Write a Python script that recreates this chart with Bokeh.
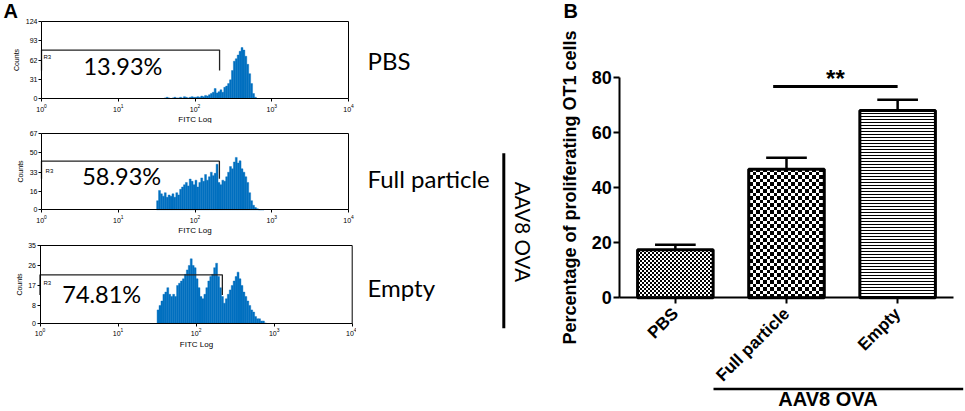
import math
import base64
from bokeh.plotting import figure
from bokeh.layouts import row, column
from bokeh.models import Range1d, FixedTicker, ImageURLTexture
from bokeh.core.properties import value
from bokeh.embed import file_html
from bokeh.resources import INLINE

# ---------------- data: panel A (FITC histograms) ----------------
BIN_START = 1.5      # log10(FITC) of first bin edge
BIN_WIDTH = 0.025    # bin width in decades
X_MIN, X_MAX = 1, 10 ** 4

pbs_counts = [0, 0, 0, 0, 1, 2, 1, 0, 1, 2, 1, 1, 2, 1, 3, 2, 1, 2, 3, 2,
              2, 3, 2, 4, 3, 5, 4, 6, 8, 10, 16, 9, 11, 14, 10, 18,
              20, 24, 30, 45, 60, 64, 70, 76, 82, 78, 68, 55, 40, 24, 8, 2,
              0, 0, 0, 0]
full_counts = [8, 17, 14, 12, 15, 11, 13, 12, 14, 11, 15, 13,
               18, 20, 22, 24, 21, 27, 25, 22, 26, 20, 24, 28, 25, 31, 26, 29, 33, 30, 32, 40,
               24, 22, 26, 25, 29, 33, 38, 36, 42, 46, 41, 43, 36, 33, 29, 24, 15, 8, 4, 2, 1, 0,
               0, 0]
empty_counts = [6, 8, 10, 13, 14, 16, 13, 12, 13, 12,
                17, 18, 19, 20, 22, 24, 26, 29, 26, 25,
                20, 16, 12, 11, 13, 16, 19, 21, 22, 25,
                27, 21, 16, 12, 9, 11, 13, 15, 17, 19,
                21, 23, 20, 17, 14, 12, 10, 8, 6, 5,
                3, 2, 2, 1, 1, 0]

pbs_yticks = [0, 31, 62, 93, 124]
full_yticks = [0, 16, 33, 50, 67]
empty_yticks = [0, 8, 17, 26, 35]

gate_name = "R3"
gate_percent = ["13.93%", "58.93%", "74.81%"]
gate_right = [209, 208, 217]
gate_top = [78, 42.7, 21.8]
gate_low = [45, 27.2, 12.7]

# ---------------- data: panel B ----------------
categories = ["PBS", "Full particle", "Empty"]
means = [17.4, 46.6, 67.9]
sems = [1.8, 4.2, 3.9]
b_yticks = [0, 20, 40, 60, 80]
group_title = "AAV8 OVA"
significance = "**"

HIST_BLUE = "#0070C0"
ARIAL = "Liberation Sans"
CALIBRI = "Lato"


def hist_panel(counts, yticks, H, bx, by, gi, pct_xy, r3_xy, letter=None):
    W = 356
    dec_px = (bx[1] - bx[0]) / 4.0
    ymax = yticks[-1]
    cnt_px = ymax / (by[1] - by[0])
    xr = Range1d(10 ** (-bx[0] / dec_px), 10 ** ((W - bx[0]) / dec_px))
    yr = Range1d(-(H - by[1]) * cnt_px, ymax + by[0] * cnt_px)
    p = figure(width=W, height=H, x_axis_type="log", x_range=xr, y_range=yr,
               min_border=0, title=None, output_backend="svg", toolbar_location=None)
    n = len(counts)
    lefts = [10 ** (BIN_START + i * BIN_WIDTH) for i in range(n)]
    rights = [10 ** (BIN_START + (i + 1) * BIN_WIDTH) for i in range(n)]
    p.quad(left=lefts, right=rights, bottom=[0] * n, top=counts,
           fill_color=HIST_BLUE, line_color=HIST_BLUE, line_width=0.4)
    # plot box (top and right edges; axes give left and bottom)
    p.line([X_MIN, X_MAX, X_MAX], [ymax, ymax, 0], line_color="black", line_width=1)
    # gate
    gx = [X_MIN, X_MIN, gate_right[gi], gate_right[gi]]
    gy = [gate_low[gi], gate_top[gi], gate_top[gi], gate_low[gi]]
    p.line(gx, gy, line_color="#222222", line_width=1.3)
    p.text(x=[pct_xy[0]], y=[pct_xy[1]], text=[gate_percent[gi]], text_font=value(CALIBRI),
           text_font_size="23.5px", text_baseline="middle", text_align="left",
           text_color="black")
    p.text(x=[r3_xy[0]], y=[r3_xy[1]], text=[gate_name], text_font=value(ARIAL),
           text_font_size="6px", text_baseline="top", text_align="left",
           text_color="black")
    if letter is not None:
        lx = 10 ** ((3 - bx[0]) / dec_px)
        ly = (by[1] - 10.5) * cnt_px
        p.text(x=[lx], y=[ly], text=[letter], text_font=value(ARIAL),
               text_font_style="bold", text_font_size="20px",
               text_baseline="middle", text_align="left", text_color="black")
    p.grid.visible = False
    p.outline_line_color = None
    p.xaxis.fixed_location = 0
    p.yaxis.fixed_location = X_MIN
    p.xaxis.bounds = (X_MIN, X_MAX)
    p.yaxis.bounds = (0, ymax)
    for ax in (p.xaxis[0], p.yaxis[0]):
        ax.axis_line_color = "black"
        ax.axis_line_width = 1
        ax.major_tick_line_color = "black"
        ax.major_tick_in = 0
        ax.major_tick_out = 3
        ax.minor_tick_line_color = None
        ax.major_label_text_font = ARIAL
        ax.major_label_text_font_size = "7px"
        ax.major_label_text_color = "black"
        ax.axis_label_text_font = ARIAL
        ax.axis_label_text_font_style = "normal"
        ax.axis_label_text_color = "black"
        ax.major_label_standoff = 1
    p.yaxis.ticker = FixedTicker(ticks=yticks)
    p.yaxis.axis_label = "Counts"
    p.yaxis.axis_label_text_font_size = "7px"
    p.yaxis.axis_label_standoff = 3
    p.xaxis.axis_label = "FITC Log"
    p.xaxis.axis_label_text_font_size = "8px"
    p.xaxis.axis_label_standoff = 0
    return p


h1 = hist_panel(pbs_counts, pbs_yticks, 123, (41, 348), (21, 98), 0, (3.52, 52.7), (1.06, 70.9), "A")
h2 = hist_panel(full_counts, full_yticks, 113, (41, 348), (10, 86.3), 1, (3.39, 29.7), (1.13, 37.1))
h3 = hist_panel(empty_counts, empty_yticks, 175, (39.5, 351.7), (9, 86.7), 2, (1.93, 13.0), (1.11, 19.5))

# ---------------- middle labels (pixel-like coordinates) ----------------
mid = figure(width=204, height=411, x_range=Range1d(356, 560), y_range=Range1d(411, 0),
             x_axis_location=None, y_axis_location=None, min_border=0, title=None,
             output_backend="svg", toolbar_location=None)
mid.grid.visible = False
mid.outline_line_color = None
mid.text(x=[367, 367, 367], y=[60.0, 178.3, 286.7], text=categories,
         text_font=value(CALIBRI), text_font_size="24px", text_baseline="middle",
         text_align="left", text_color="black")
mid.line([503.3, 503.3], [152.7, 327.7], line_color="black", line_width=3)
mid.text(x=[522.5], y=[231.5], text=[group_title], angle=-math.pi / 2,
         text_font=value(CALIBRI), text_font_size="20.5px", text_baseline="middle",
         text_align="center", text_color="black")

# ---------------- panel B bar chart ----------------
BW, BH = 405, 411
PX_X0, PX_PER_X = 619.3 - 560, 111.13      # screen position of x=0 inside figure, px per category
PX_Y0, PX_PER_Y = 297.3, 2.7575            # screen position of y=0, px per percent
xs = [i + 0.5 for i in range(len(categories))]
bar = figure(width=BW, height=BH,
             x_range=Range1d(-PX_X0 / PX_PER_X, (BW - PX_X0) / PX_PER_X),
             y_range=Range1d(-(BH - PX_Y0) / PX_PER_Y, PX_Y0 / PX_PER_Y),
             min_border=0, title=None, output_backend="svg", toolbar_location=None)
bar.grid.visible = False
bar.outline_line_color = None


def checker_url(n, cell):
    svg = ("<svg xmlns='http://www.w3.org/2000/svg' width='%s' height='%s' "
           "shape-rendering='crispEdges'>"
           "<rect width='%s' height='%s' fill='white'/>"
           "<rect width='%s' height='%s' fill='black'/>"
           "<rect x='%s' y='%s' width='%s' height='%s' fill='black'/></svg>"
           % (n, n, n, n, cell, cell, cell, cell, n - cell, n - cell))
    return "data:image/svg+xml;base64," + base64.b64encode(svg.encode()).decode()


textures = {"chk_fine": ImageURLTexture(url=checker_url(4, 2)),
            "chk_coarse": ImageURLTexture(url=checker_url(7, 3.5))}
hatch_styles = [("chk_fine", 4), ("chk_coarse", 7), ("horizontal_line", 3)]
for i in range(len(categories)):
    pat, sc = hatch_styles[i]
    bar.vbar(x=[xs[i]], top=[means[i]], bottom=0, width=0.68,
             fill_color="white", line_color="black", line_width=3,
             hatch_pattern=value(pat), hatch_scale=sc, hatch_color="black",
             hatch_weight=1, hatch_extra=textures)

tops = [m + s for m, s in zip(means, sems)]
bar.segment(x0=xs, y0=means, x1=xs, y1=tops, line_color="black", line_width=2.5)
bar.segment(x0=[x - 0.183 for x in xs], y0=tops, x1=[x + 0.183 for x in xs], y1=tops,
            line_color="black", line_width=2.5)

bar.line([xs[1] - 0.12, xs[2]], [76.6, 76.6], line_color="black", line_width=3)
bar.text(x=[(xs[1] - 0.12 + xs[2]) / 2], y=[(PX_Y0 - 78.0) / PX_PER_Y], text=[significance],
         text_font=value(ARIAL), text_font_style="bold", text_font_size="24px",
         text_align="center", text_baseline="middle", text_color="black")

# group bracket under the x labels
bar.line([(713 - 619.3) / PX_PER_X, (962.7 - 619.3) / PX_PER_X],
         [-(388.5 - PX_Y0) / PX_PER_Y] * 2, line_color="black", line_width=2.5)
bar.text(x=[(827.5 - 619.3) / PX_PER_X], y=[-(398.0 - PX_Y0) / PX_PER_Y], text=[group_title],
         text_font=value(ARIAL), text_font_style="bold", text_font_size="20px",
         text_align="center", text_baseline="middle", text_color="black")
bar.text(x=[(563 - 619.3) / PX_PER_X], y=[(PX_Y0 - 10.5) / PX_PER_Y], text=["B"],
         text_font=value(ARIAL), text_font_style="bold", text_font_size="20px",
         text_align="left", text_baseline="middle", text_color="black")

bar.xaxis.fixed_location = 0
bar.yaxis.fixed_location = 0
bar.xaxis.bounds = (0, 3)
bar.yaxis.bounds = (0, 80)
for ax in (bar.xaxis[0], bar.yaxis[0]):
    ax.axis_line_color = "black"
    ax.axis_line_width = 2
    ax.major_tick_line_color = "black"
    ax.major_tick_line_width = 2
    ax.major_tick_in = 0
    ax.major_tick_out = 6
    ax.minor_tick_line_color = None
    ax.major_label_text_font = ARIAL
    ax.major_label_text_font_style = "bold"
    ax.major_label_text_color = "black"
    ax.major_label_standoff = 2
bar.yaxis.ticker = FixedTicker(ticks=b_yticks)
bar.yaxis.major_label_text_font_size = "18px"
bar.yaxis.axis_label = "Percentage of proliferating OT1 cells"
bar.yaxis.axis_label_text_font = ARIAL
bar.yaxis.axis_label_text_font_style = "bold"
bar.yaxis.axis_label_text_font_size = "18px"
bar.yaxis.axis_label_text_color = "black"
bar.yaxis.axis_label_standoff = 8
bar.xaxis.ticker = FixedTicker(ticks=xs)
bar.xaxis.major_label_overrides = {x: c for x, c in zip(xs, categories)}
bar.xaxis.major_label_orientation = math.pi / 4
bar.xaxis.major_label_text_font_size = "17px"
bar.xaxis.major_label_standoff = 7

layout = row(column(h1, h2, h3), mid, bar)
open("out.html", "w").write(file_html(layout, INLINE))
